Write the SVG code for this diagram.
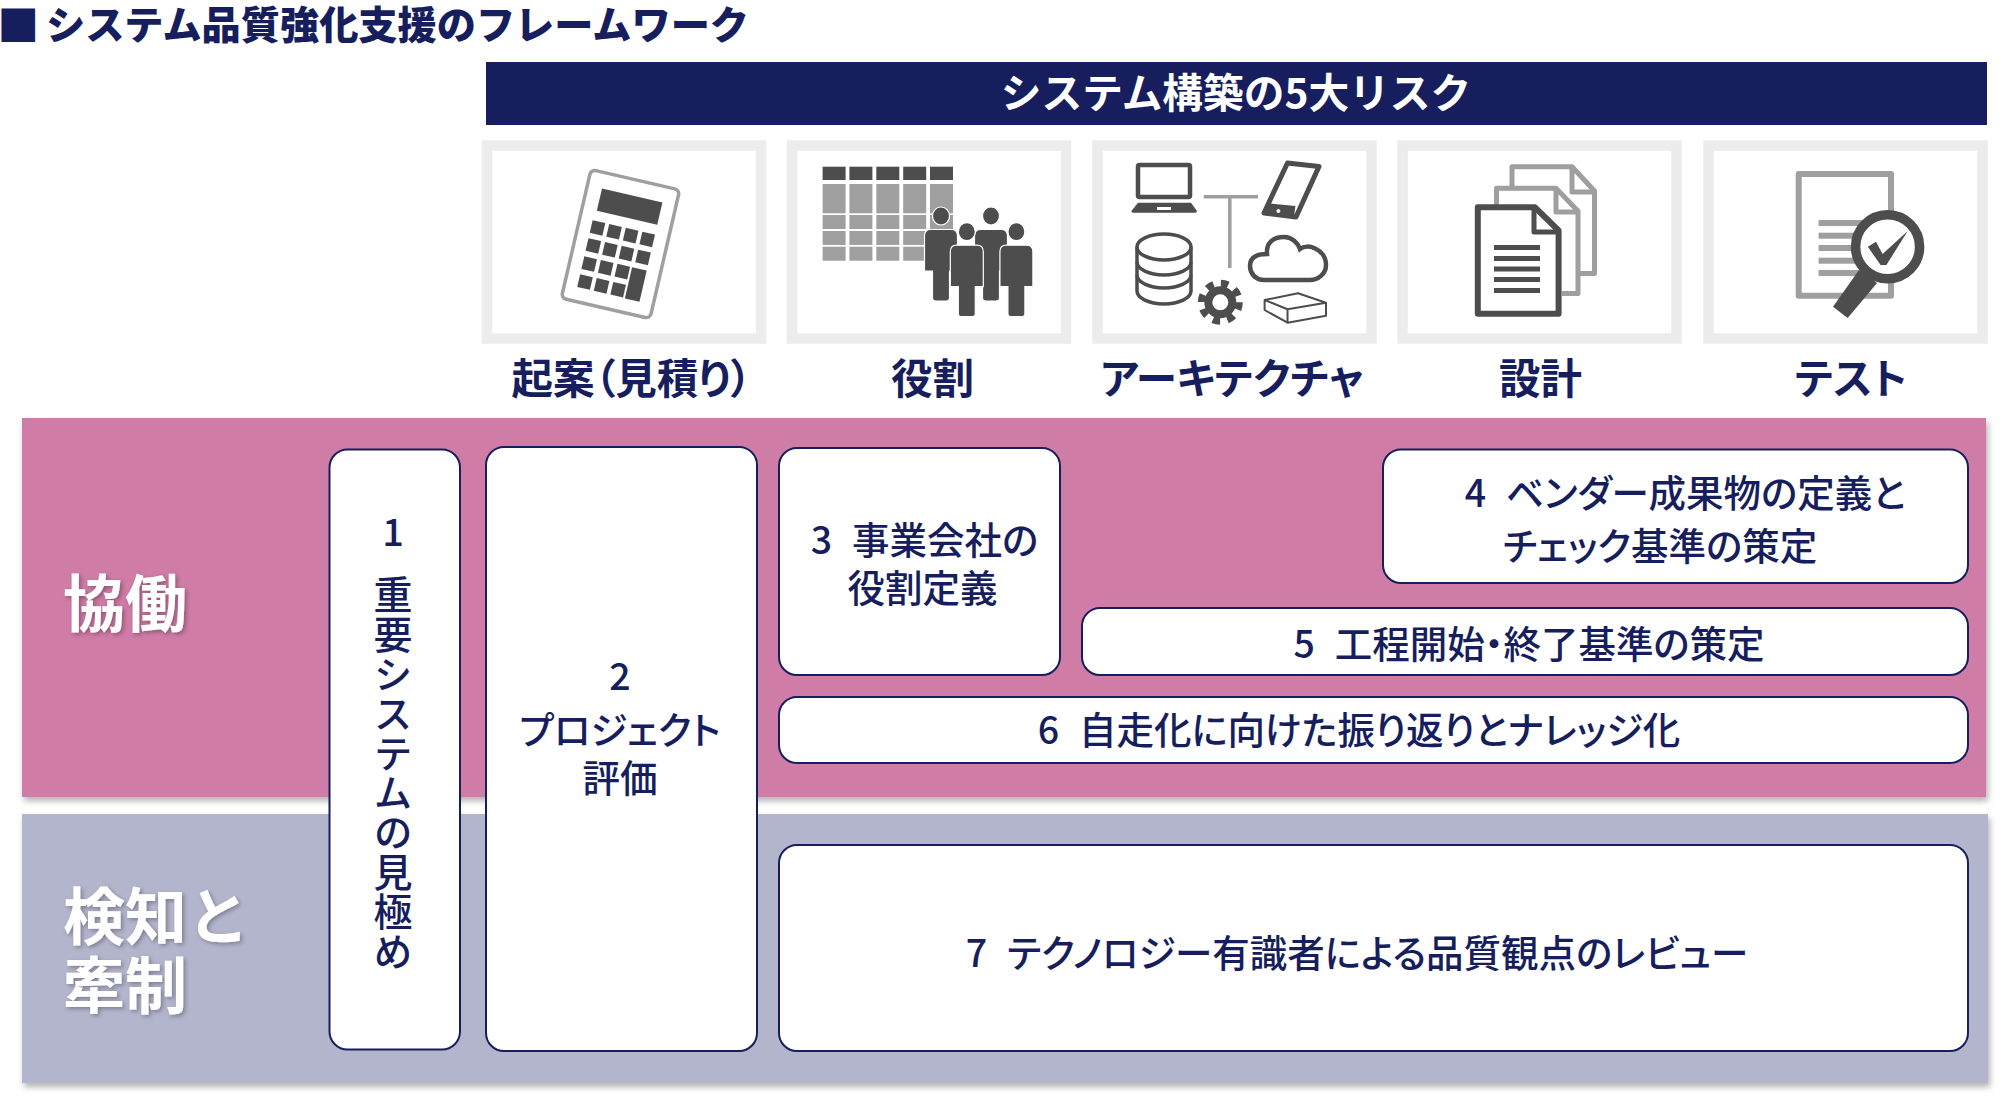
<svg xmlns="http://www.w3.org/2000/svg" width="2008" height="1106" viewBox="0 0 2008 1106">
<style>
text{font-family:"Noto Sans CJK JP","Noto Sans",sans-serif;fill:#171e5e;white-space:pre}
.t{font-size:37.500px;font-weight:500;text-anchor:middle;font-feature-settings:"palt";word-spacing:1.5px}
.h{font-size:41.500px;font-weight:700;text-anchor:middle;font-feature-settings:"palt"}
.s{font-size:62px;font-weight:700;fill:#fff;filter:url(#ts)}
.b{fill:#fff;stroke:#171e5e;stroke-width:2}
.tile{fill:#fff;stroke:#ececec;stroke-width:10.5}
.d{fill:#4d4d4d}.g{fill:#9e9f9e}
.ds{fill:none;stroke:#4d4d4d}.gs{fill:none;stroke:#9e9f9e}
</style>
<defs>
<filter id="sh" x="-2%" y="-5%" width="104%" height="110%"><feDropShadow dx="2" dy="4" stdDeviation="3" flood-color="#000" flood-opacity=".3"/></filter>
<filter id="ts" x="-10%" y="-10%" width="120%" height="125%"><feDropShadow dx="2" dy="2" stdDeviation="2" flood-color="#000" flood-opacity=".3"/></filter>
<g id="person"><ellipse cx="0" cy="0" rx="8.5" ry="9"/><path d="M-10 13.5H10Q16.5 13.5 16.5 20V55H8.5V82Q8.5 85 5 85H-5Q-8.5 85-8.5 82V55H-16.5V20Q-16.5 13.5-10 13.5Z"/></g>
</defs>
<rect width="2008" height="1106" fill="#fff"/>
<g id="title"><text x="-2.700" y="41" font-size="42" font-weight="900">■</text><text x="46" y="39" font-size="39.200" font-weight="900">システム品質強化支援のフレームワーク</text></g>
<g id="risk-banner"><rect x="486" y="62" width="1501" height="63" fill="#171e5e"/><text x="1236" y="108" font-size="40.700" font-weight="700" text-anchor="middle" style="fill:#fff">システム構築の5大リスク</text></g>

<g id="risk-estimate"><rect class="tile" x="487" y="145.500" width="274" height="193"/>
<g transform="translate(591 169.500) rotate(13)">
<rect x="0" y="0" width="91" height="132" rx="5" fill="#fff" stroke="#9e9f9e" stroke-width="3.500"/>
<g class="d"><rect x="15" y="16" width="62" height="23"/>
<rect x="13" y="49" width="13" height="13"/><rect x="30" y="49" width="13" height="13"/><rect x="47" y="49" width="13" height="13"/><rect x="64" y="49" width="13" height="13"/>
<rect x="13" y="67.500" width="13" height="13"/><rect x="30" y="67.500" width="13" height="13"/><rect x="47" y="67.500" width="13" height="13"/><rect x="64" y="67.500" width="13" height="13"/>
<rect x="13" y="86" width="13" height="13"/><rect x="30" y="86" width="13" height="13"/><rect x="47" y="86" width="13" height="13"/><rect x="62" y="86" width="15" height="32"/>
<rect x="13" y="104.500" width="13" height="13"/><rect x="30" y="104.500" width="13" height="13"/><rect x="47" y="104.500" width="13" height="13"/></g></g>
<text class="h" x="631.500" y="394">起案（見積り）</text></g>

<g id="risk-role"><rect class="tile" x="792" y="145.500" width="274" height="193"/>
<g class="d"><rect x="822.600" y="166.700" width="23" height="13.300"/><rect x="849.400" y="166.700" width="23" height="13.300"/><rect x="876.300" y="166.700" width="23" height="13.300"/><rect x="903.200" y="166.700" width="23" height="13.300"/><rect x="930" y="166.700" width="23" height="13.300"/></g>
<g class="g">
<rect x="822.600" y="184" width="23" height="29.300"/><rect x="849.400" y="184" width="23" height="29.300"/><rect x="876.300" y="184" width="23" height="29.300"/><rect x="903.200" y="184" width="23" height="29.300"/><rect x="930" y="184" width="23" height="29.300"/>
<rect x="822.600" y="215" width="23" height="14"/><rect x="849.400" y="215" width="23" height="14"/><rect x="876.300" y="215" width="23" height="14"/><rect x="903.200" y="215" width="23" height="14"/><rect x="930" y="215" width="23" height="14"/>
<rect x="822.600" y="231" width="23" height="14"/><rect x="849.400" y="231" width="23" height="14"/><rect x="876.300" y="231" width="23" height="14"/><rect x="903.200" y="231" width="23" height="14"/><rect x="930" y="231" width="23" height="14"/>
<rect x="822.600" y="246.700" width="23" height="14"/><rect x="849.400" y="246.700" width="23" height="14"/><rect x="876.300" y="246.700" width="23" height="14"/><rect x="903.200" y="246.700" width="23" height="14"/></g>
<g class="d" stroke="#fff" stroke-width="1.200"><use href="#person" x="941" y="216"/><use href="#person" x="991" y="216"/><use href="#person" x="966.800" y="231.700"/><use href="#person" x="1016.400" y="231.700"/></g>
<text class="h" x="932.500" y="394">役割</text></g>

<g id="risk-architecture"><rect class="tile" x="1097.500" y="145.500" width="274" height="193"/>
<rect x="1138" y="165" width="52" height="32" rx="1.500" fill="#fff" stroke="#4d4d4d" stroke-width="4.500"/>
<path class="d" d="M1138 202.700H1191L1197 211Q1197 212.700 1195 212.700H1133Q1131.400 212.700 1131.400 211Z"/><rect x="1157" y="207" width="14" height="3" fill="#fff"/>
<path d="M1287.500 163L1319 166.500 1296 217 1264 213Z" fill="#fff" stroke="#4d4d4d" stroke-width="5" stroke-linejoin="round"/>
<path class="d" d="M1269 203.300L1295.400 206 1294 217 1264 213Z"/><circle cx="1278.400" cy="211" r="2" fill="#fff"/>
<path class="gs" stroke-width="3.500" d="M1203.700 196.700H1258M1229.800 196.700V268"/>
<g class="ds" stroke-width="3.500" fill="#fff"><ellipse cx="1164" cy="247" rx="27" ry="13"/><path d="M1137 247V291C1137 298 1149 304 1164 304S1191 298 1191 291V247"/><path d="M1137 262C1137 269 1149 275 1164 275S1191 269 1191 262M1137 275C1137 282 1149 288 1164 288S1191 282 1191 275"/></g>
<circle cx="1220.300" cy="302.300" r="19" fill="none" stroke="#4d4d4d" stroke-width="7" stroke-dasharray="7.500 7.420"/><circle cx="1220.300" cy="302.300" r="12" fill="#fff" stroke="#4d4d4d" stroke-width="8"/>
<path class="ds" stroke-width="4.500" d="M1264 280C1255 280 1250 273 1250 266C1250 258 1256 254 1267 254C1266 244 1272 237 1284 237C1292 237 1298 243 1300 249C1304 246 1310 246 1314 248C1322 251 1326 258 1326 265C1326 274 1318 280 1310 280Z"/>
<path class="ds" stroke-width="2" stroke-linejoin="round" d="M1298 293.300L1264.600 300V310L1287.500 322.700 1326 315.700V302.700ZM1264.600 300L1287.500 309.300 1326 302.700M1287.500 309.300V322.700"/>
<text class="h" x="1232" y="394">アーキテクチャ</text></g>

<g id="risk-design"><rect class="tile" x="1402.500" y="145.500" width="274" height="193"/>
<g class="gs" stroke-width="5" stroke-linejoin="round"><path d="M1512 187V166.800H1572L1594.500 191V273.500H1580"/><path d="M1572 166.800V192H1594"/><path d="M1496.500 206V188.200H1556L1578 211V293.500H1562"/><path d="M1556 188.200V212H1577"/></g>
<path d="M1477.800 207.300H1535L1558.600 230.500V313.700H1477.800Z" fill="#fff" stroke="#4d4d4d" stroke-width="6" stroke-linejoin="round"/>
<path class="ds" stroke-width="5" stroke-linejoin="round" d="M1534 207.300V232H1558"/>
<g class="d"><rect x="1494" y="245" width="46" height="5"/><rect x="1494" y="256" width="46" height="5"/><rect x="1494" y="266.500" width="46" height="5"/><rect x="1494" y="277" width="46" height="5"/><rect x="1494" y="288" width="46" height="5"/></g>
<text class="h" x="1540.500" y="394">設計</text></g>

<g id="risk-test"><rect class="tile" x="1708.500" y="145.500" width="274" height="193"/>
<rect x="1798.700" y="174" width="92.300" height="121.700" fill="#fff" stroke="#9e9f9e" stroke-width="6" stroke-linejoin="round"/>
<g class="g"><rect x="1818.600" y="220" width="44" height="6"/><rect x="1818.600" y="232.700" width="44" height="6"/><rect x="1818.600" y="245" width="44" height="6"/><rect x="1818.600" y="257.700" width="44" height="6"/><rect x="1818.600" y="270" width="44" height="6"/></g>
<path class="d" d="M1859 270L1877 283 1847.700 318 1833 306.700Z"/>
<circle cx="1887.600" cy="246.700" r="32" fill="#fff" stroke="#4d4d4d" stroke-width="9.500"/>
<path class="d" d="M1867.800 246.700L1876 241.700 1882.600 254 1907.700 231 1886.400 265H1880.600Z"/>
<text class="h" x="1851" y="394">テスト</text></g>

<g id="band-kyodo"><rect x="22" y="418" width="1964" height="379" fill="#cf7ba6" filter="url(#sh)"/><text class="s" x="63" y="627">協働</text></g>
<g id="band-kenchi"><rect x="22" y="814" width="1966" height="269" fill="#b3b5cd" filter="url(#sh)"/><text class="s" x="63" y="940">検知と</text><text class="s" x="63" y="1009">牽制</text></g>

<g id="node-1"><rect class="b" x="329.500" y="449.500" width="130.500" height="600" rx="18"/><text x="393" y="546" font-size="38" font-weight="500" text-anchor="middle">1</text><text x="393" y="575" font-size="39" font-weight="500" style="writing-mode:vertical-rl;letter-spacing:.6px">重要システムの見極め</text></g>
<g id="node-2"><rect class="b" x="486" y="447" width="271" height="604" rx="18"/><text class="t" x="620" y="690">2</text><text class="t" x="620" y="744">プロジェクト</text><text class="t" x="620" y="792">評価</text></g>
<g id="node-3"><rect class="b" x="779" y="448" width="281" height="227" rx="18"/><text class="t" x="924.500" y="554">3  事業会社の</text><text class="t" x="922.500" y="602">役割定義</text></g>
<g id="node-4"><rect class="b" x="1383" y="449.500" width="585" height="133.500" rx="18"/><text class="t" x="1685" y="507">4  ベンダー成果物の定義と</text><text class="t" x="1660" y="560">チェック基準の策定</text></g>
<g id="node-5"><rect class="b" x="1082" y="608" width="886" height="67" rx="18"/><text class="t" x="1529" y="658">5  工程開始・終了基準の策定</text></g>
<g id="node-6"><rect class="b" x="779" y="697" width="1189" height="66" rx="18"/><text class="t" x="1359" y="744">6  自走化に向けた振り返りとナレッジ化</text></g>
<g id="node-7"><rect class="b" x="779" y="845" width="1189" height="206" rx="18"/><text class="t" x="1357" y="967">7  テクノロジー有識者による品質観点のレビュー</text></g>
</svg>
